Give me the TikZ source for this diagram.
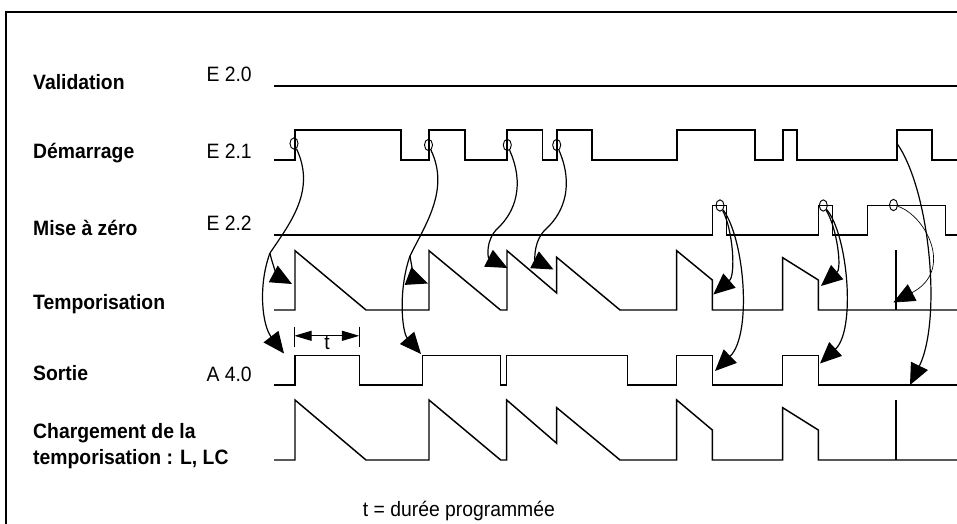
\documentclass[tikz,border=0pt]{standalone}
\usepackage{fontspec}
\setmainfont{Liberation Sans}
\usetikzlibrary{arrows.meta,shapes.geometric}

\begin{document}
\begin{tikzpicture}[
	x=0.75pt, y=-0.75pt,
	every node/.style={ font=\fontsize{15.6}{19}\selectfont, inner sep=0pt, xscale=0.93 },
	signame/.style={ anchor=base west, font=\fontsize{15.6}{19}\selectfont\bfseries, align=left },
	addr/.style={ anchor=base east },
	wave/.style={ line width=1.1pt },
	spike/.style={ line width=1.6pt },
	ring/.style={ ellipse, draw, line width=0.7pt, inner sep=0pt, minimum width=6.5pt, minimum height=8.5pt },
	trigline/.style={ line width=0.9pt },
	trig/.style={ trigline, -{Triangle[length=16pt,width=14pt]} },
	dimline/.style={ line width=0.8pt, {Triangle[length=13pt,width=7.5pt]}-{Triangle[length=13pt,width=7.5pt]} }
]
\useasboundingbox (0,0) rectangle (957,524);
\draw[line width=0.9pt] (6,524) -- (6,12) -- (957,12);

% signal names and addresses
\node at (33,90) (valid) [signame] {Validation};
\node at (33,158.3) (demarr) [signame] {Démarrage};
\node at (33,235) (raz) [signame] {Mise à zéro};
\node at (33,309.3) (tempo) [signame] {Temporisation};
\node at (33,380) (sortie) [signame] {Sortie};
\node at (33,464) (charg) [signame] {Chargement de la\\temporisation : L, LC};
\node at (252,81.7) (eval) [addr] {E 2.0};
\node at (252,158.3) (edem) [addr] {E 2.1};
\node at (252,230.7) (eraz) [addr] {E 2.2};
\node at (252,381.7) (asor) [addr] {A 4.0};
\node at (362.7,516.7) (legend) [anchor=base west] {t = durée programmée};

% timing lines
\draw[wave] (274,86) -- (957,86);
\draw[wave] (274,160) -| (295,130) -| (401,160) -| (429,130) -| (465,160) -| (507,130)
  -| (542.5,160) -| (557,130) -| (592,160) -| (677,130) -| (755,160) -| (783,130)
  -| (797,160) -| (897,130) -| (932,160) -- (957,160);
\draw[wave] (274,235) -| (712.3,205.5) -| (726.7,235) -| (818.3,205.5) -| (832.7,235)
  -| (867.7,205.5) -| (945.7,235) -- (957,235);
\draw[wave] (274,310) -| (295,250.7) -- (366,310) -| (429,250.7) -- (500.5,310)
  -| (507,250.7) -- (556.7,293) -- (556.7,257.3) -- (620,310) -| (676.7,250.7)
  -- (712.3,280) -- (712.3,310) -| (782.7,257.7) -- (818.3,280) -- (818.3,310) -- (957,310);
\draw[wave] (274,385) -| (295,355.7) -| (359.3,385) -| (422.7,355.7) -| (500.7,385)
  -| (506.7,355.7) -| (627.7,385) -| (676.7,355.7) -| (712.3,385) -| (782.7,355.7)
  -| (818.3,385) -- (957,385);
\draw[wave] (274,460) -| (295,400) -- (366,460) -| (429,400) -- (500.7,460)
  -| (506.7,400) -- (556.7,443.3) -- (556.7,407.7) -- (620,460) -| (676.7,400)
  -- (712.3,430) -- (712.3,460) -| (782.7,407.7) -- (818.3,430) -- (818.3,460) -- (957,460);
\draw[spike] (895.7,250) -- (895.7,310);
\draw[spike] (896,400) -- (896,460);

% duration t
\coordinate (tkL) at (294.3,335.8);
\coordinate (tkR) at (359.3,335.8);
\draw[line width=0.8pt] (294.3,326.7) -- (294.3,347.3);
\draw[line width=0.8pt] (359.3,326.7) -- (359.3,347.3);
\draw[dimline] (tkL) -- (tkR);
\node at (327,349.5) (tdur) [anchor=base] {t};

% edges
\node at (294,143.5) (c1) [ring] {};
\node at (428.5,145) (c2) [ring] {};
\node at (507.3,145) (c3) [ring] {};
\node at (556.7,145) (c4) [ring] {};
\node at (720,205.5) (c5) [ring] {};
\node at (823.3,205.5) (c6) [ring] {};
\node at (893.5,205) (c7) [ring] {};
\coordinate (d8) at (896.7,143);

\coordinate (j1) at (270,253);
\coordinate (j2) at (410,256);
\coordinate (tA1) at (292,284);
\coordinate (tA2) at (428,283.5);
\coordinate (tA3) at (507.5,268);
\coordinate (tA4) at (553.5,269.5);
\coordinate (tA5) at (713.3,294.5);
\coordinate (tA6) at (821,286);
\coordinate (tA7) at (893.3,302.5);
\coordinate (sA1) at (284,353.5);
\coordinate (sA2) at (421,354);
\coordinate (sA5) at (715,371);
\coordinate (sA6) at (820,363.5);
\coordinate (sA8) at (910,385);

% triggers
\draw[trigline] (c1) .. controls (316,190) and (291,222) .. (j1);
\draw[trig] (j1) .. controls (273,268) and (279,277) .. (tA1);
\draw[trig] (j1) .. controls (258,285) and (262,325) .. (sA1);
\draw[trigline] (c2) .. controls (450,190) and (425,225) .. (j2);
\draw[trig] (j2) .. controls (412,270) and (416,279) .. (tA2);
\draw[trig] (j2) .. controls (398,290) and (402,332) .. (sA2);
\draw[trig] (c3) .. controls (525,185) and (515,212) .. (498,228) .. controls (485,240) and (488,258) .. (tA3);
\draw[trig] (c4) .. controls (574,185) and (564,212) .. (547,228) .. controls (533,240) and (535,260) .. (tA4);
\draw[trig] (c5) .. controls (733,230) and (736,275) .. (tA5);
\draw[trig] (c5) .. controls (745,240) and (752,335) .. (sA5);
\draw[trig] (c6) .. controls (837,228) and (842,268) .. (tA6);
\draw[trig] (c6) .. controls (848,235) and (856,330) .. (sA6);
\draw[trig, line width=0.5pt] (c7) .. controls (925,215) and (955,270) .. (tA7);
\draw[trig] (d8) .. controls (930,190) and (942,320) .. (sA8);

\end{tikzpicture}
\end{document}
